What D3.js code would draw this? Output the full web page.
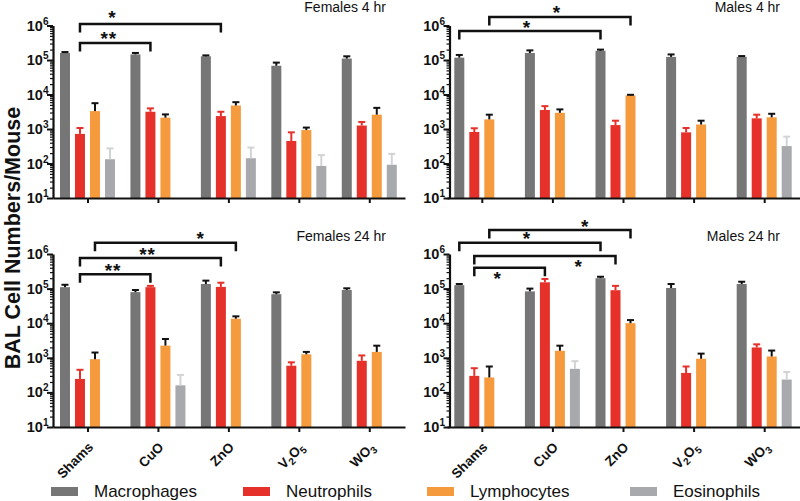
<!DOCTYPE html>
<html><head><meta charset="utf-8">
<script src="https://cdn.jsdelivr.net/npm/d3@7"></script>
<style>
body{margin:0;background:#fff}
svg{display:block}
text{font-family:Arial,"Liberation Sans",Helvetica,sans-serif;fill:#111}
</style>
</head><body>
<svg id="chart" width="800" height="501"></svg>
<script>
// ---------------- DATA ----------------
const categories = ["Shams", "CuO", "ZnO", "V2O5", "WO3"];
// label pieces: [text, kind]
const categoryLabels = [
  [["Shams", ""]],
  [["CuO", ""]],
  [["ZnO", ""]],
  [["V", ""], ["2", "sub"], ["O", ""], ["5", "sub"]],
  [["WO", ""], ["3", "sub"]]
];
const seriesNames = ["Macrophages", "Neutrophils", "Lymphocytes", "Eosinophils"];
const yTickValues = [1e1, 1e2, 1e3, 1e4, 1e5, 1e6];
const yTickExponents = ["1", "2", "3", "4", "5", "6"];
const panelTitles = ["Females 4 hr", "Males 4 hr", "Females 24 hr", "Males 24 hr"];
const yAxisTitle = "BAL Cell Numbers/Mouse";

// mean values, one row per series (Macrophages, Neutrophils, Lymphocytes, Eosinophils)
const females4hMean = [
  [1.6e5, 1.45e5, 1.28e5, 6.8e4, 1.1e5],
  [720, 3160, 2370, 450, 1260],
  [3300, 2130, 4800, 930, 2600],
  [133, null, 142, 85, 92]
];
const females4hUpper = [
  [1.7e5, 1.6e5, 1.36e5, 8.4e4, 1.28e5],
  [1070, 3960, 3160, 800, 1600],
  [5600, 2650, 6000, 1100, 4100],
  [275, null, 290, 175, 190]
];
const males4hMean = [
  [1.17e5, 1.6e5, 1.85e5, 1.23e5, 1.23e5],
  [820, 3550, 1300, 800, 2040],
  [1900, 2950, 9400, 1350, 2180],
  [null, null, null, null, 320]
];
const males4hUpper = [
  [1.4e5, 1.9e5, 2.0e5, 1.45e5, 1.3e5],
  [1050, 4600, 1740, 1070, 2600],
  [2600, 3700, 9800, 1740, 2760],
  [null, null, null, null, 600]
];
const females24hMean = [
  [1.1e5, 7.9e4, 1.36e5, 6.9e4, 9.1e4],
  [245, 1.1e5, 1.12e5, 590, 820],
  [910, 2250, 1.35e4, 1260, 1480],
  [null, 160, null, null, null]
];
const females24hUpper = [
  [1.29e5, 9.1e4, 1.7e5, 7.8e4, 1.02e5],
  [450, 1.2e5, 1.48e5, 740, 1170],
  [1420, 3500, 1.58e4, 1480, 2240],
  [null, 320, null, null, null]
];
const males24hMean = [
  [1.26e5, 8.3e4, 2.0e5, 1.04e5, 1.36e5],
  [300, 1.52e5, 9.0e4, 365, 1990],
  [270, 1600, 1.0e4, 940, 1090],
  [null, 480, null, null, 235]
];
const males24hUpper = [
  [1.36e5, 1.0e5, 2.2e5, 1.36e5, 1.58e5],
  [500, 1.9e5, 1.2e5, 560, 2450],
  [560, 2240, 1.23e4, 1320, 1620],
  [null, 800, null, null, 390]
];

// significance brackets: endpoints as [category, series], height as a value on the y scale
const females4hBrackets = [
  {from: ["Shams", "Neutrophils"], to: ["ZnO", "Neutrophils"], level: 1.1e6, label: "*", at: 0.23, side: "above"},
  {from: ["Shams", "Neutrophils"], to: ["CuO", "Neutrophils"], level: 3.1e5, label: "**", at: 0.41, side: "above"}
];
const males4hBrackets = [
  {from: ["Shams", "Lymphocytes"], to: ["ZnO", "Lymphocytes"], level: 1.77e6, label: "*", at: 0.48, side: "above"},
  {from: ["Shams", "Macrophages"], to: ["ZnO", "Macrophages"], level: 6.9e5, label: "*", at: 0.48, side: "above"}
];
const females24hBrackets = [
  {from: ["Shams", "Lymphocytes"], to: ["ZnO", "Lymphocytes"], level: 2.1e6, label: "*", at: 0.75, side: "above"},
  {from: ["Shams", "Neutrophils"], to: ["ZnO", "Neutrophils"], level: 7.6e5, label: "**", at: 0.48, side: "above"},
  {from: ["Shams", "Neutrophils"], to: ["CuO", "Neutrophils"], level: 2.6e5, label: "**", at: 0.47, side: "above"}
];
const males24hBrackets = [
  {from: ["Shams", "Lymphocytes"], to: ["ZnO", "Lymphocytes"], level: 4.9e6, label: "*", at: 0.68, side: "above"},
  {from: ["Shams", "Macrophages"], to: ["ZnO", "Macrophages"], level: 2.1e6, label: "*", at: 0.48, side: "above"},
  {from: ["Shams", "Neutrophils"], to: ["ZnO", "Neutrophils"], level: 8.8e5, label: "*", at: 0.74, side: "below"},
  {from: ["Shams", "Neutrophils"], to: ["CuO", "Neutrophils"], level: 4.0e5, label: "*", at: 0.33, side: "below"}
];

// ---------------- STYLE / LAYOUT ----------------
const seriesColors = ["#767676", "#e5312a", "#f69a3e", "#a7a9ac"];
const errColors = ["#111111", "#e5312a", "#111111", "#d2d3d5"];
const columns = [{x0: 52.75, x1: 405, axis: 53}, {x0: 447, x1: 800, axis: 449.5}];
const rows = [{top: 25.5, bottom: 198}, {top: 254, bottom: 427}];
const legendX = [51, 243, 427, 630];
const starSize = 19;

const panels = [
  {title: panelTitles[0], mean: females4hMean, upper: females4hUpper, brackets: females4hBrackets, col: 0, row: 0},
  {title: panelTitles[1], mean: males4hMean, upper: males4hUpper, brackets: males4hBrackets, col: 1, row: 0},
  {title: panelTitles[2], mean: females24hMean, upper: females24hUpper, brackets: females24hBrackets, col: 0, row: 1},
  {title: panelTitles[3], mean: males24hMean, upper: males24hUpper, brackets: males24hBrackets, col: 1, row: 1}
];

const svg = d3.select("#chart");
const inner = d3.scaleBand().domain(seriesNames).range([-28, 27]).paddingInner(1 / 3).paddingOuter(0);

panels.forEach((p, pi) => {
  const c = columns[p.col], r = rows[p.row];
  const x = d3.scaleBand().domain(categories).range([c.x0, c.x1]).padding(0);
  const y = d3.scaleLog().domain([10, 1e6]).range([r.bottom, r.top]);
  const g = svg.append("g");
  const cx = (cat, ser) => x(cat) + x.bandwidth() / 2 + inner(ser) + inner.bandwidth() / 2;

  // bars
  const barData = [];
  seriesNames.forEach((s, si) => categories.forEach((cat, ci) => {
    const v = p.mean[si][ci];
    if (v != null) barData.push({s, si, cat, v, up: p.upper[si][ci]});
  }));
  g.selectAll("rect.bar").data(barData).join("rect")
    .attr("class", "bar")
    .attr("x", d => x(d.cat) + x.bandwidth() / 2 + inner(d.s))
    .attr("width", inner.bandwidth())
    .attr("y", d => y(d.v))
    .attr("height", d => y(10) - y(d.v))
    .attr("fill", d => seriesColors[d.si]);

  // error bars (upper only)
  const eg = g.selectAll("g.err").data(barData.filter(d => d.up != null)).join("g").attr("class", "err");
  eg.append("line")
    .attr("x1", d => cx(d.cat, d.s)).attr("x2", d => cx(d.cat, d.s))
    .attr("y1", d => y(d.v)).attr("y2", d => y(d.up))
    .attr("stroke", d => errColors[d.si]).attr("stroke-width", 2);
  eg.append("line")
    .attr("x1", d => cx(d.cat, d.s) - 3.5).attr("x2", d => cx(d.cat, d.s) + 3.5)
    .attr("y1", d => y(d.up)).attr("y2", d => y(d.up))
    .attr("stroke", d => errColors[d.si]).attr("stroke-width", 2);

  // y axis: major + minor ticks
  const minor = [];
  for (let e = 1; e < 6; e++) for (let k = 2; k <= 9; k++) minor.push(k * Math.pow(10, e));
  const yMinor = svg.append("g").attr("transform", `translate(${c.axis},0)`)
    .call(d3.axisLeft(y).tickValues(minor).tickSize(3).tickSizeOuter(0).tickFormat(""));
  yMinor.select(".domain").remove();
  yMinor.selectAll(".tick line").attr("stroke", "#111").attr("stroke-width", 1.2);
  const yAx = svg.append("g").attr("transform", `translate(${c.axis},0)`)
    .call(d3.axisLeft(y).tickValues(yTickValues).tickSize(6).tickSizeOuter(0).tickFormat(""));
  yAx.select(".domain").attr("stroke", "#111").attr("stroke-width", 2.2);
  yAx.selectAll(".tick line").attr("stroke", "#111").attr("stroke-width", 2);
  yTickValues.forEach((v, i) => {
    const t = svg.append("text")
      .attr("x", c.axis - 4.5).attr("y", y(v) + 5)
      .attr("text-anchor", "end").attr("font-weight", "bold").attr("font-size", 14.5);
    t.append("tspan").text("10");
    t.append("tspan").attr("dy", -6).attr("font-size", 10).text(yTickExponents[i]);
  });

  // x axis
  const xAx = svg.append("g").attr("transform", `translate(0,${r.bottom})`)
    .call(d3.axisBottom(x).tickSize(5).tickSizeOuter(0).tickFormat(""));
  xAx.select(".domain").attr("stroke", "#111").attr("stroke-width", 2.2);
  xAx.selectAll(".tick line").attr("stroke", "#111").attr("stroke-width", 2);

  // x labels (bottom row only)
  if (p.row === 1) {
    categories.forEach((cat, ci) => {
      const ax = x(cat) + x.bandwidth() / 2 + 6, ay = r.bottom + 21;
      const t = svg.append("text")
        .attr("transform", `translate(${ax},${ay}) rotate(-45)`)
        .attr("text-anchor", "end").attr("font-weight", "bold").attr("font-size", 13.5);
      let shifted = false;
      categoryLabels[ci].forEach(([txt, kind]) => {
        const ts = t.append("tspan").text(txt);
        if (kind === "sub") { ts.attr("font-size", 10).attr("dy", shifted ? 0 : 3.5); shifted = true; }
        else { ts.attr("dy", shifted ? -3.5 : 0); shifted = false; }
      });
    });
  }

  // brackets
  p.brackets.forEach((b, bi) => {
    const xa = cx(b.from[0], b.from[1]), xb = cx(b.to[0], b.to[1]), yb = y(b.level);
    svg.append("path")
      .attr("d", `M${xa},${yb + 8.5}V${yb}H${xb}V${yb + 8.5}`)
      .attr("fill", "none").attr("stroke", "#111").attr("stroke-width", 2.5);
    const sx = xa + b.at * (xb - xa);
    const gap = (pi === 0 && bi === 0) ? 10.5 : 8;
    const scy = b.side === "above" ? yb - gap : yb + 7;
    svg.append("text").attr("x", sx).attr("y", scy + 0.55 * starSize)
      .attr("text-anchor", "middle").attr("font-weight", "bold").attr("font-size", starSize)
      .attr("letter-spacing", 1).text(b.label);
  });

  // panel title
  svg.append("text").attr("x", c.x1 - (p.col === 0 ? 19 : 20)).attr("y", r.top - 13.5)
    .attr("text-anchor", "end").attr("font-size", 14).text(p.title);
});

// y axis title
svg.append("text")
  .attr("transform", "translate(19.5,238) rotate(-90)")
  .attr("text-anchor", "middle").attr("font-weight", "bold").attr("font-size", 21.5)
  .text(yAxisTitle);

// legend
const lg = svg.selectAll("g.legend").data(seriesNames).join("g").attr("class", "legend")
  .attr("transform", (d, i) => `translate(${legendX[i]},0)`);
lg.append("rect").attr("x", 0).attr("y", 487).attr("width", 27).attr("height", 9)
  .attr("fill", (d, i) => seriesColors[i]);
lg.append("text").attr("x", 43).attr("y", 497).attr("font-size", 17).text(d => d);
</script>
</body></html>
